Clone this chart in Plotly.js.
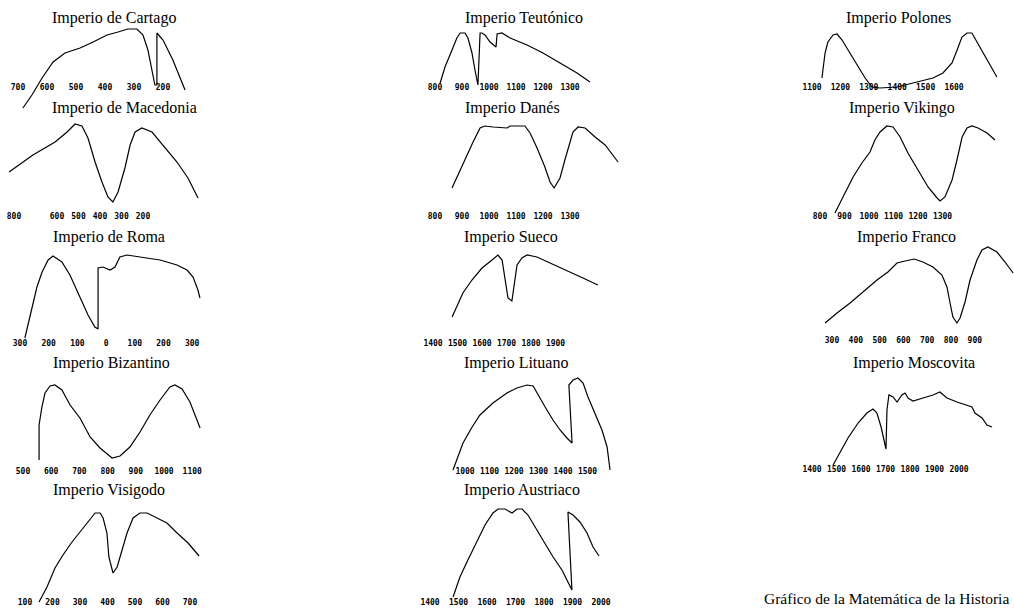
<!DOCTYPE html>
<html><head><meta charset="utf-8">
<script src="https://cdn.plot.ly/plotly-3.0.1.min.js"></script>
<style>html,body{margin:0;padding:0;background:#fff}#g{width:1014px;height:609px}</style>
</head><body><div id="g"></div>
<script>
// ---- datos (años; los años a.C. como negativos) y "poder" relativo ----
const cartagoAnios = [-683,-652,-617,-579,-538,-486,-441,-393,-355,-321,-290,-269,-252,-238,-228,-221,-221,-200,-166,-124];
const cartagoPoder = [-21,-8,9,25,34,39,45,52,55,58,58,52,37,17,2,2,54,47,27,-3];
const cartagoTicks = [-700,-600,-500,-400,-300,-200];
const cartagoEtiq = ['700','600','500','400','300','200'];

const macedoniaAnios = [-823,-712,-609,-553,-516,-484,-456,-423,-391,-363,-340,-316,-284,-260,-237,-205,-158,-107,-42,9,56];
const macedoniaPoder = [45,62,75,85,93,91,79,55,35,20,15,25,49,72,85,89,85,72,55,39,19];
const macedoniaTicks = [-800,-600,-500,-400,-300,-200];
const macedoniaEtiq = ['800','600','500','400','300','200'];

const romaAnios = [-283,-265,-241,-223,-202,-185,-154,-126,-91,-63,-39,-28,-28,-11,14,31,48,73,118,188,247,282,303,320,327];
const romaPoder = [4,25,55,70,82,86,80,67,45,27,15,13,74,75,72,75,85,87,85,82,77,72,65,52,44];
const romaTicks = [-300,-200,-100,0,100,200,300];
const romaEtiq = ['300','200','100','0','100','200','300'];

const bizantinoAnios = [557,557,567,578,596,613,638,667,702,738,773,816,844,879,915,950,986,1021,1039,1064,1092,1117,1128];
const bizantinoPoder = [12,47,65,79,86,87,82,67,54,35,24,14,16,25,40,57,72,85,87,83,70,52,44];
const bizantinoTicks = [500,600,700,800,900,1000,1100];

const visigodoAnios = [151,180,209,238,271,300,329,355,373,384,398,405,420,435,453,471,493,518,544,580,616,653,693,733];
const visigodoPoder = [2,17,36,49,62,72,82,91,91,86,71,47,31,37,54,71,86,91,91,86,81,71,61,48];
const visigodoTicks = [100,200,300,400,500,600,700];

const teutonicoAnios = [819,837,863,881,893,911,922,937,948,959,967,974,985,1004,1026,1030,1048,1078,1141,1200,1263,1326,1374];
const teutonicoPoder = [5,21,38,50,55,55,50,35,18,3,55,55,53,46,41,54,55,50,43,35,25,15,6];
const teutonicoTicks = [800,900,1000,1100,1200,1300];

const danesAnios = [863,904,941,967,985,1015,1067,1078,1133,1152,1178,1207,1226,1241,1263,1281,1296,1311,1330,1356,1393,1430,1478];
const danesPoder = [29,54,75,89,91,90,89,91,91,84,69,50,35,29,39,57,72,85,90,89,80,72,55];
const danesTicks = [800,900,1000,1100,1200,1300];

const suecoAnios = [1478,1522,1559,1600,1641,1665,1682,1694,1706,1722,1735,1743,1763,1784,1824,1878,1947,2012,2073];
const suecoPoder = [28,52,65,77,85,90,85,68,47,44,65,80,87,90,88,82,75,67,60];
const suecoTicks = [1400,1500,1600,1700,1800,1900];

const lituanoAnios = [951,992,1029,1061,1114,1171,1212,1253,1278,1298,1327,1359,1388,1416,1437,1424,1441,1461,1482,1502,1531,1559,1580,1592];
const lituanoPoder = [2,29,45,57,69,79,84,87,86,77,65,52,42,34,29,87,92,94,89,75,59,42,25,2];
const lituanoTicks = [1000,1100,1200,1300,1400,1500];

const austriacoAnios = [1481,1505,1533,1565,1593,1621,1639,1663,1688,1705,1723,1744,1768,1796,1832,1863,1884,1898,1884,1902,1926,1951,1972,1993];
const austriacoPoder = [7,27,44,62,79,91,95,95,91,95,95,89,77,64,47,34,22,14,92,89,82,71,57,48];
const austriacoTicks = [1400,1500,1600,1700,1800,1900,2000];

const polonesAnios = [1135,1146,1156,1174,1188,1206,1227,1258,1287,1311,1339,1399,1470,1526,1561,1593,1611,1628,1646,1663,1681,1702,1727,1751];
const polonesPoder = [11,36,47,54,55,49,39,24,11,2,1,2,7,11,16,26,39,52,56,56,47,36,24,12];
const polonesTicks = [1100,1200,1300,1400,1500,1600];

const vikingoAnios = [861,902,935,971,1004,1024,1045,1073,1098,1127,1159,1200,1241,1278,1290,1310,1339,1359,1380,1400,1420,1445,1482,1514];
const vikingoPoder = [4,24,40,54,65,77,85,91,90,80,64,47,30,19,16,20,37,57,80,89,91,89,84,77];
const vikingoTicks = [800,900,1000,1100,1200,1300];

const francoAnios = [271,321,376,430,489,535,573,607,645,682,724,762,783,796,808,825,838,859,880,909,930,955,993,1027,1061];
const francoPoder = [15,25,35,46,58,66,75,77,79,76,71,63,51,35,21,15,20,36,58,78,88,91,86,76,65];
const francoTicks = [300,400,500,600,700,800,900];

const moscovitaAnios = [1486,1514,1547,1588,1624,1649,1665,1682,1694,1702,1706,1714,1731,1747,1767,1780,1792,1812,1853,1894,1922,1951,1992,2053,2065,2094,2114,2135];
const moscovitaPoder = [5,17,32,47,57,61,57,43,30,21,60,75,73,68,75,77,72,69,72,75,78,72,68,63,57,52,45,43];
const moscovitaTicks = [1400,1500,1600,1700,1800,1900,2000];

const titulos = ['Imperio de Cartago','Imperio de Macedonia','Imperio de Roma','Imperio Bizantino','Imperio Visigodo',
  'Imperio Teutónico','Imperio Danés','Imperio Sueco','Imperio Lituano','Imperio Austriaco',
  'Imperio Polones','Imperio Vikingo','Imperio Franco','Imperio Moscovita'];
const pieTexto = 'Gráfico de la Matemática de la Historia';

// ---- layout configuration (pixel geometry) ----
const W = 1014, H = 609;
const cols = [[0, 225], [405, 640], [785, 1014]];
const series = [
  {x: cartagoAnios, y: cartagoPoder, tv: cartagoTicks, tt: cartagoEtiq, col: 0, cal: [-700, 18, 0.29], tx: 50, ty: 18, zero: 87, tick: 88},
  {x: macedoniaAnios, y: macedoniaPoder, tv: macedoniaTicks, tt: macedoniaEtiq, col: 0, cal: [-800, 14, 0.215], tx: 50, ty: 108, zero: 217, tick: 217},
  {x: romaAnios, y: romaPoder, tv: romaTicks, tt: romaEtiq, col: 0, cal: [-300, 20, 0.287], tx: 51, ty: 237, zero: 342, tick: 344},
  {x: bizantinoAnios, y: bizantinoPoder, tv: bizantinoTicks, col: 0, cal: [500, 23, 0.282], tx: 51, ty: 363, zero: 472, tick: 472},
  {x: visigodoAnios, y: visigodoPoder, tv: visigodoTicks, col: 0, cal: [100, 25, 0.275], tx: 51, ty: 490, zero: 604, tick: 603},
  {x: teutonicoAnios, y: teutonicoPoder, tv: teutonicoTicks, col: 1, cal: [800, 435, 0.27], tx: 463, ty: 18, zero: 88, tick: 88},
  {x: danesAnios, y: danesPoder, tv: danesTicks, col: 1, cal: [800, 435, 0.27], tx: 463, ty: 108, zero: 217, tick: 217},
  {x: suecoAnios, y: suecoPoder, tv: suecoTicks, col: 1, cal: [1400, 433, 0.245], tx: 462, ty: 237, zero: 345, tick: 344},
  {x: lituanoAnios, y: lituanoPoder, tv: lituanoTicks, col: 1, cal: [1000, 465, 0.245], tx: 462, ty: 363, zero: 472, tick: 472},
  {x: austriacoAnios, y: austriacoPoder, tv: austriacoTicks, col: 1, cal: [1400, 430, 0.285], tx: 462, ty: 490, zero: 604, tick: 603},
  {x: polonesAnios, y: polonesPoder, tv: polonesTicks, col: 2, cal: [1100, 812, 0.284], tx: 844, ty: 18, zero: 89, tick: 88},
  {x: vikingoAnios, y: vikingoPoder, tv: vikingoTicks, col: 2, cal: [800, 820, 0.245], tx: 847, ty: 108, zero: 217, tick: 217},
  {x: francoAnios, y: francoPoder, tv: francoTicks, col: 2, cal: [300, 832, 0.238], tx: 855, ty: 237, zero: 338, tick: 341},
  {x: moscovitaAnios, y: moscovitaPoder, tv: moscovitaTicks, col: 2, cal: [1400, 812, 0.245], tx: 851, ty: 363, zero: 470, tick: 470}
];

const tickFont = {family: 'DejaVu Sans Mono, monospace', size: 8, color: '#000', weight: 'bold'};
const titleFont = {family: 'Liberation Serif, Times New Roman, serif', size: 16, color: '#000'};
const pieFont = {family: 'Liberation Serif, Times New Roman, serif', size: 15.5, color: '#000'};

const data = [];
const layout = {
  width: W, height: H, margin: {l: 0, r: 0, t: 0, b: 0},
  paper_bgcolor: '#fff', plot_bgcolor: 'rgba(0,0,0,0)', showlegend: false,
  annotations: []
};

series.forEach((s, i) => {
  const n = i + 1;
  const xa = 'x' + (n === 1 ? '' : n), ya = 'y' + (n === 1 ? '' : n);
  const [L, R] = cols[s.col];
  const [a, pa, k] = s.cal;
  const T = s.ty + 9, B = Math.min(H, s.tick + 24);
  data.push({type: 'scatter', mode: 'lines', x: s.x, y: s.y, xaxis: xa, yaxis: ya,
    line: {color: '#000', width: 1.2}, hoverinfo: 'skip'});
  layout['xaxis' + (n === 1 ? '' : n)] = {
    domain: [L / W, R / W],
    range: [a + (L - pa) / k, a + (R - pa) / k],
    anchor: 'free', position: 1 - (s.tick - 7) / H,
    showgrid: false, zeroline: false, showline: false, ticks: '',
    tickmode: 'array', tickvals: s.tv, ticktext: s.tt || s.tv.map(String),
    tickfont: tickFont, fixedrange: true
  };
  layout['yaxis' + (n === 1 ? '' : n)] = {
    domain: [1 - B / H, 1 - T / H],
    range: [s.zero - B, s.zero - T],
    anchor: xa, visible: false, fixedrange: true
  };
  layout.annotations.push({text: titulos[i], xref: 'paper', yref: 'paper',
    x: s.tx / W, y: 1 - s.ty / H, xanchor: 'left', yanchor: 'middle',
    showarrow: false, font: titleFont});
});
layout.annotations.push({text: pieTexto, xref: 'paper', yref: 'paper',
  x: 1011 / W, y: 1 - 598 / H, xanchor: 'right', yanchor: 'middle',
  showarrow: false, font: pieFont});

Plotly.newPlot('g', data, layout, {staticPlot: true, displayModeBar: false});
</script>
</body></html>
